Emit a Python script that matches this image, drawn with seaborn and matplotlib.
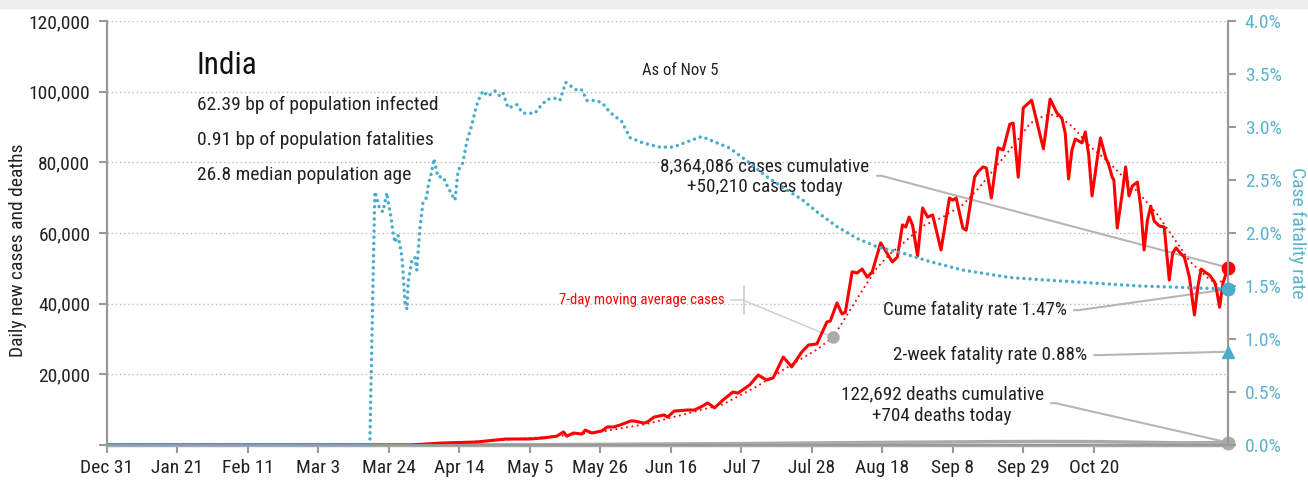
import matplotlib
matplotlib.use('Agg')
import matplotlib.pyplot as plt
import seaborn as sns
from matplotlib import font_manager as fm
from matplotlib.patches import Rectangle

# Eixo x em dias contados a partir do primeiro tick ("Dec 31"); ultimo dia = Nov 5
tick_days = list(range(0, 295, 21))
tick_labels = ['Dec 31', 'Jan 21', 'Feb 11', 'Mar 3', 'Mar 24', 'Apr 14', 'May 5',
               'May 26', 'Jun 16', 'Jul 7', 'Jul 28', 'Aug 18', 'Sep 8', 'Sep 29', 'Oct 20']
last_day = 334

# Casos diarios
case_day = [0, 90, 100, 110, 119, 126, 130, 134, 136, 137, 139, 141.5, 142.5, 144.5, 147.5,
            149, 151, 153, 156, 157, 160, 161, 163, 166, 167, 169, 173, 175, 177,
            179, 181, 183.5, 186.5, 188, 191.5, 194, 196.5, 198.5, 201.5, 204, 207, 209,
            211.5, 213, 214.5, 215.5, 217.5, 219, 220, 222, 223.5, 225, 226.5, 228, 230.5,
            234, 235.5, 237, 238, 239, 240, 241.5, 243, 244.5, 246, 248.5, 251, 252, 253,
            255, 256, 258.5, 259.5, 261, 262, 263.5, 265.5, 267, 269, 270, 271.5, 273,
            275.5, 279, 281, 283, 284.5, 285.5, 286.5, 287.5, 288.5, 290.5, 291.5, 292.5,
            293.5, 295, 296, 297.5, 298.5, 299.5, 300, 301, 302.5, 303.5, 304.5, 305.5,
            307, 308, 309, 310, 311, 312, 313.5, 315, 316.5, 317.5, 318.5, 320, 321,
            322.5, 324, 325, 326, 327.5, 328.5, 330, 330.5, 331.5, 332.5, 334]
case_val = [0, 0, 570, 850, 1700, 1700, 2000, 2500, 3700, 2500, 3400, 3100, 4200, 3400, 4000,
            5100, 5100, 5700, 6800, 6800, 6200, 6500, 7900, 8500, 7900, 9600, 9900, 9900, 10800,
            11900, 10500, 12700, 15000, 14700, 17000, 19800, 18400, 19000, 24900, 22100, 26300, 28300,
            28600, 31700, 34800, 35100, 40200, 37100, 37600, 49000, 48700, 49800, 47500, 49000, 57200,
            51800, 53200, 62300, 61700, 64500, 62300, 53500, 67100, 64500, 65100, 55200, 69900, 69300, 69900,
            61400, 60800, 75800, 77300, 78700, 78400, 69900, 84100, 83500, 90800, 91100, 75800, 95400,
            97600, 83800, 97900, 94000, 92500, 88300, 75300, 83500, 86600, 85500, 88600, 82100,
            70500, 80700, 86900, 81500, 79200, 75800, 75000, 61400, 71300, 78700, 70500, 73300,
            74400, 67400, 55200, 63700, 67600, 63400, 62000, 61700, 46700, 54300, 55800, 54100, 53200,
            47500, 36800, 44700, 49800, 48700, 48100, 46100, 44400, 39000, 45800, 50210]

# Media movel de 7 dias
ma_day = [0, 92, 100, 119, 134, 147.5, 161, 176.5, 183.5, 193.5, 203.5, 211.5, 216.3, 221.3,
          225.2, 229.3, 233.2, 237.1, 243.1, 249, 255, 260, 265.1, 271.1, 275, 278.8, 281.5,
          283.9, 287.8, 292.9, 297.9, 302.7, 307.7, 312.8, 317.5, 322.6, 327.7, 330.6, 333, 334]
ma_val = [0, 0, 400, 1500, 2500, 3800, 6000, 9800, 11500, 16500, 22500, 27000, 30500, 38000,
          44000, 50000, 54000, 57000, 62000, 64500, 68000, 73000, 79000, 86000, 91000, 93000, 93500,
          92800, 90000, 84500, 80500, 76000, 71000, 65500, 59000, 52000, 47500, 45500, 47000, 48500]

# Taxa de letalidade acumulada (%)
cfr_day = [0, 78.3, 79.8, 80.4, 81.3, 82.2, 83.4, 83.7, 84.6, 85.2, 85.8, 86.7, 87.9, 88.8, 89.4,
           89.7, 90.9, 91.7, 92.3, 93.2, 94.1, 95.3, 95.6, 96.8, 97.4, 98.6, 100.1, 101.6, 103.7,
           104.6, 106, 107.2, 108.7, 109.6, 110.5, 112, 113.5, 115.6, 117.1, 118, 119.5, 122.1,
           123.9, 125.4, 127.5, 129, 131.1, 133.5, 134.9, 136.7, 138.5, 140.3, 141.5, 143, 145.4,
           147.5, 149.8, 153.4, 155.8, 159.7, 164.7, 168.6, 173.7, 177.2, 181.7, 185.6, 191.5,
           196.6, 201.4, 207.3, 211.5, 217.5, 223.4, 229.4, 237.1, 245.2, 255, 269, 277.9, 287.8,
           297.9, 307.7, 317.5, 334]
cfr_val = [0, 0, 2.39, 2.33, 2.22, 2.20, 2.38, 2.31, 2.15, 2.01, 1.91, 1.98, 1.77, 1.34, 1.28,
           1.53, 1.75, 1.77, 1.65, 2.03, 2.28, 2.34, 2.43, 2.59, 2.70, 2.53, 2.53, 2.43, 2.31,
           2.59, 2.66, 2.86, 3.02, 3.14, 3.24, 3.34, 3.29, 3.34, 3.29, 3.32, 3.18, 3.21,
           3.13, 3.13, 3.13, 3.19, 3.26, 3.27, 3.25, 3.42, 3.38, 3.34, 3.35, 3.25, 3.25,
           3.23, 3.14, 3.05, 2.90, 2.85, 2.81, 2.81, 2.87, 2.91, 2.85, 2.80, 2.66,
           2.53, 2.43, 2.31, 2.20, 2.06, 1.95, 1.87, 1.81, 1.73, 1.65, 1.58, 1.56, 1.54,
           1.52, 1.50, 1.49, 1.47]

# Mortes diarias
death_day = [0, 95, 100, 130, 160, 190, 220, 250, 265, 280, 295, 310, 320, 334]
death_val = [0, 0, 30, 100, 250, 400, 650, 850, 950, 1000, 950, 750, 600, 704]

pais = 'India'
stats = ['62.39 bp of population infected', '0.91 bp of population fatalities',
         '26.8 median population age']
cases_cum, cases_today = '8,364,086', 50210
deaths_cum, deaths_today = '122,692', 704
cfr_cume, cfr_2w = 1.47, 0.88

RED = '#ff0000'
TEAL = '#4aacca'
TEAL_TXT = '#5bb3cf'
GRAY = '#aaaaaa'
LEAD = '#b5b5b5'
SPINE = '#999999'
TXT = '#222222'

sns.set_theme(style='white')
nomes = {f.name for f in fm.fontManager.ttflist}
fonte = next((n for n in ['Roboto Condensed', 'Archivo Narrow', 'Liberation Sans Narrow',
                          'Barlow Semi Condensed'] if n in nomes), 'DejaVu Sans')
plt.rcParams['font.family'] = [fonte, 'DejaVu Sans']

fig = plt.figure(figsize=(13.08, 4.8), dpi=100)
fig.patches.append(Rectangle((0, 0.984), 1, 0.016, transform=fig.transFigure,
                             color='#eeeeee', zorder=0))
ax = fig.add_axes([107 / 1308, 35 / 480, 1121 / 1308, 424 / 480])
ax2 = ax.twinx()

sns.lineplot(x=death_day, y=death_val, ax=ax, color=GRAY, lw=2.5, zorder=3)
sns.lineplot(x=ma_day, y=ma_val, ax=ax, color=RED, lw=1.3, ls=(0, (1, 2)), zorder=4)
sns.lineplot(x=case_day, y=case_val, ax=ax, color=RED, lw=2.2, zorder=5)
sns.lineplot(x=cfr_day, y=cfr_val, ax=ax2, color=TEAL, lw=2.5,
             ls=(0, (0.01, 1.75)), dash_capstyle='round', zorder=4)

ax.set_xlim(0, last_day)
ax.set_ylim(0, 120000)
ax2.set_ylim(0, 4)

ax.set_xticks(tick_days)
ax.set_xticklabels(tick_labels)
yt = list(range(0, 120001, 20000))
ax.set_yticks(yt)
ax.set_yticklabels(['' if v == 0 else f'{v:,}' for v in yt])
rt = [i * 0.5 for i in range(9)]
ax2.set_yticks(rt)
ax2.set_yticklabels([f'{v:.1f}%' for v in rt])

ax.yaxis.grid(True, ls=(0, (1, 2)), color='#bbbbbb', lw=1)
ax.xaxis.grid(False)
ax2.grid(False)
ax.set_axisbelow(True)

for a in (ax, ax2):
    a.spines['top'].set_visible(False)
    for s in ('left', 'right', 'bottom'):
        a.spines[s].set_color(SPINE)
        a.spines[s].set_linewidth(1.5)
ax.spines['bottom'].set_linewidth(2.5)
ax.spines['bottom'].set_color('#aaaaaa')

ax.tick_params(axis='x', direction='out', length=6, width=1.5, color=SPINE,
               labelsize=14, labelcolor=TXT, pad=4, bottom=True)
ax.tick_params(axis='y', direction='out', length=6, width=1.5, color=SPINE,
               labelsize=14, labelcolor=TXT, pad=6, left=True)
ax2.tick_params(axis='y', direction='out', length=6, width=1.5, color=SPINE,
                labelsize=14, labelcolor=TEAL_TXT, pad=6, right=True)

ax.set_ylabel('Daily new cases and deaths', fontsize=14, color=TXT)
ax.yaxis.set_label_coords(-0.071, 0.46)
ax2.set_ylabel('Case fatality rate', fontsize=14, color=TEAL_TXT, rotation=270, labelpad=18)
ax.set_xlabel('')

# Textos do canto superior esquerdo
ax.text(0.08, 0.895, pais, transform=ax.transAxes, fontsize=22.5, color='#111111',
        va='center', ha='left')
for i, s in enumerate(stats):
    ax.text(0.08, 0.802 - 0.083 * i, s, transform=ax.transAxes, fontsize=14,
            color=TXT, va='center', ha='left')
ax.text(0.511, 0.884, 'As of Nov 5', transform=ax.transAxes, fontsize=12,
        color=TXT, va='center', ha='center')

# Marcadores do ultimo dia
ax.plot(last_day, cases_today, 'o', color=RED, ms=9, clip_on=False, zorder=10)
ax.plot(last_day, deaths_today, 'o', color=GRAY, ms=9, clip_on=False, zorder=10)
ax2.plot(last_day, cfr_cume, 'o', color=TEAL, ms=9, clip_on=False, zorder=10)
ax2.plot(last_day, cfr_2w, '^', color=TEAL, ms=9, clip_on=False, zorder=10)

seta = dict(arrowstyle='-', color=LEAD, lw=1.5, shrinkA=3, shrinkB=3,
            connectionstyle='arc,angleA=0,armA=12,angleB=0,armB=0,rad=0')

ax.annotate(f'{cases_cum} cases cumulative\n+{cases_today:,} cases today',
            xy=(last_day, cases_today), xytext=(0.587, 0.633), textcoords='axes fraction',
            ha='center', va='center', fontsize=13.8, color=TXT, linespacing=1.2,
            arrowprops=dict(seta, relpos=(1, 0.52)), annotation_clip=False)
ax.annotate(f'Cume fatality rate {cfr_cume:.2f}%', xy=(last_day, cfr_cume),
            xycoords=ax2.transData, xytext=(0.856, 0.318), textcoords='axes fraction',
            ha='right', va='center', fontsize=13.8, color=TXT,
            arrowprops=dict(seta, relpos=(1, 0.5)), annotation_clip=False)
ax.annotate(f'2-week fatality rate {cfr_2w:.2f}%', xy=(last_day, cfr_2w),
            xycoords=ax2.transData, xytext=(0.874, 0.212), textcoords='axes fraction',
            ha='right', va='center', fontsize=13.8, color=TXT,
            arrowprops=dict(seta, relpos=(1, 0.5)), annotation_clip=False)
ax.annotate(f'{deaths_cum} deaths cumulative\n+{deaths_today} deaths today',
            xy=(last_day, deaths_today), xytext=(0.745, 0.094), textcoords='axes fraction',
            ha='center', va='center', fontsize=13.8, color=TXT, linespacing=1.2,
            arrowprops=dict(seta, relpos=(1, 0.55)), annotation_clip=False)

# Rotulo da media movel, apontando para um ponto da curva
ma_idx = ma_day.index(216.3)
ax.plot(ma_day[ma_idx], ma_val[ma_idx], 'o', color=GRAY, ms=8, zorder=10)
ax.plot([0.568, 0.568], [0.31, 0.375], transform=ax.transAxes, color='#cccccc', lw=1.2)
ax.annotate('7-day moving average cases', xy=(ma_day[ma_idx], ma_val[ma_idx]),
            xytext=(0.551, 0.342), textcoords='axes fraction', ha='right', va='center',
            fontsize=10.6, color=RED,
            arrowprops=dict(arrowstyle='-', color='#cccccc', lw=1, shrinkB=4,
                            relpos=(1, 0.5),
                            connectionstyle='arc,angleA=0,armA=18,angleB=0,armB=0,rad=0'))

fig.savefig('out.png', dpi=100)
